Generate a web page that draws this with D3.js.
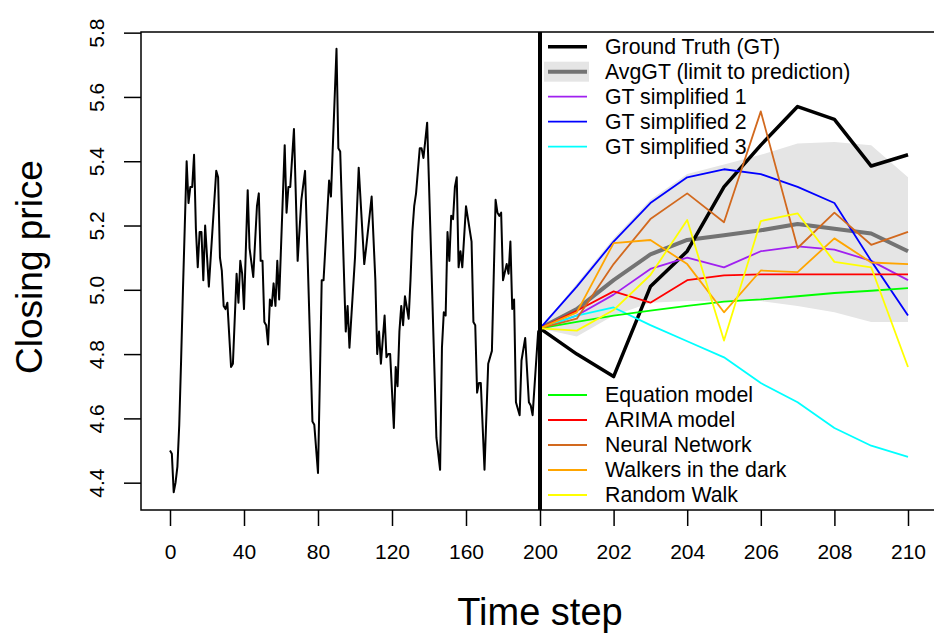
<!DOCTYPE html>
<html>
<head>
<meta charset="utf-8">
<script src="https://cdn.jsdelivr.net/npm/d3@7"></script>
<style>
  body { margin: 0; background: #fff; }
  svg { display: block; font-family: "Liberation Sans", Arial, Helvetica, sans-serif; }
</style>
</head>
<body>
<div class="container"></div>
<script>
// history: time step 0..200 (only the visible corners of the trace)
var histStep = [0,1,2,3,4,5,6,7,8,9,10,11,12,13,14,15,16,17,18,19,21,25,26,27,28,29,30,31,33,34,
  36,37,38,39,40,42,43,45,47,48,49,50,51,52,53,54,55,56,57,58,59,62,63,64,65,67,69,71,73,77,
  78,80,81,82,83,86,87,90,91,92,95,96,97,100,102,105,106,109,111,112,113,114,116,117,118,119,121,122,123,124,
  125,126,127,129,130,131,132,133,135,136,137,139,140,144,146,147,148,149,150,151,152,153,154,155,156,157,158,160,163,164,
  165,166,167,168,170,172,174,176,177,178,179,180,182,183,184,185,186,187,189,190,192,194,195,196,199,200];
var histPrice = [4.50,4.49,4.37,4.40,4.45,4.58,4.78,5.00,5.20,5.40,5.27,5.32,5.32,5.42,5.19,5.07,5.18,5.18,5.03,5.20,5.01,5.37,5.35,5.10,5.06,4.95,4.94,4.96,4.76,4.77,
  5.05,4.96,5.09,5.05,4.94,5.31,5.13,5.04,5.26,5.30,5.09,5.09,4.90,4.89,4.83,4.97,4.95,5.02,4.95,5.09,4.97,5.45,5.24,5.32,5.32,5.50,5.09,5.28,5.37,4.59,
  4.58,4.43,4.72,5.03,5.03,5.34,5.29,5.75,5.44,5.43,4.87,4.95,4.82,5.10,5.38,5.08,5.13,5.29,5.03,4.80,4.87,4.77,4.92,4.79,4.80,4.80,4.57,4.76,4.70,4.87,
  4.95,4.89,4.98,4.91,5.03,5.18,5.26,5.30,5.44,5.44,5.41,5.52,5.33,4.54,4.44,4.82,4.93,4.92,5.18,5.09,5.23,5.22,5.32,5.35,5.07,5.12,5.07,5.26,5.15,4.90,
  4.89,4.68,4.71,4.71,4.44,4.77,4.81,5.28,5.24,5.23,5.24,5.03,5.08,5.05,5.15,4.94,4.97,4.65,4.61,4.78,4.85,4.65,4.64,4.61,4.87,4.88];

// prediction part: time step 200..210
var predStep   = [200,201,202,203,204,205,206,207,208,209,210];
var groundTruth = [4.88,4.80,4.73,5.01,5.12,5.32,5.45,5.57,5.53,5.385,5.42];
var avgGT       = [4.88,4.94,5.03,5.11,5.155,5.17,5.185,5.205,5.19,5.175,5.12];
var limitHigh   = [4.88,5.02,5.16,5.28,5.36,5.39,5.42,5.455,5.46,5.45,5.35];
var limitLow    = [4.88,4.855,4.92,4.96,4.965,4.965,4.965,4.95,4.93,4.90,4.90];
var gtSimp1     = [4.88,4.92,4.985,5.065,5.10,5.07,5.12,5.135,5.125,5.09,5.03];
var gtSimp2     = [4.88,5.01,5.15,5.27,5.35,5.375,5.36,5.32,5.27,5.09,4.92];
var gtSimp3     = [4.88,4.92,4.945,4.89,4.84,4.79,4.71,4.65,4.57,4.515,4.48];
var equationModel = [4.88,4.90,4.92,4.935,4.95,4.963,4.97,4.98,4.99,4.997,5.005];
var arimaModel  = [4.88,4.935,4.995,4.96,5.03,5.045,5.048,5.048,5.048,5.048,5.048];
var neuralNet   = [4.88,4.91,5.08,5.22,5.30,5.21,5.555,5.13,5.24,5.14,5.18];
var walkers     = [4.88,4.93,5.145,5.155,5.08,4.93,5.06,5.055,5.16,5.085,5.08];
var randomWalk  = [4.88,4.873,4.937,5.046,5.217,4.842,5.214,5.238,5.087,5.07,4.76];

var leftTicks  = [0,40,80,120,160,200];
var rightTicks = [202,204,206,208,210];
var yTicks     = [4.4,4.6,4.8,5.0,5.2,5.4,5.6,5.8];

var topLegend = ["Ground Truth (GT)","AvgGT (limit to prediction)","GT simplified 1","GT simplified 2","GT simplified 3"];
var bottomLegend = ["Equation model","ARIMA model","Neural Network","Walkers in the dark","Random Walk"];

const WIDTH = 934;
const HEIGHT = 633;
const BOX_LEFT = 141, BOX_RIGHT = 938, BOX_TOP = 32, BOX_BOTTOM = 510;

var translate = function(x, y){
  return "translate("+x+","+y+")";
};

var svg = d3.select('.container').append('svg')
  .attr('width', WIDTH)
  .attr('height', HEIGHT);

var xLeft = d3.scaleLinear().domain([0, 200]).range([170, 540]);
var xRight = d3.scaleLinear().domain([200, 210]).range([540, 908]);
var yScale = d3.scaleLinear().domain([4.315, 5.802]).range([BOX_BOTTOM, BOX_TOP]);

// grey limit band
var band = d3.area()
  .x(function(d, i){ return xRight(predStep[i]); })
  .y0(function(d, i){ return yScale(limitLow[i]); })
  .y1(function(d){ return yScale(d); });
svg.append('path')
  .attr('d', band(limitHigh))
  .attr('fill', '#e5e5e5');

// history line
var histLine = d3.line()
  .x(function(d, i){ return xLeft(histStep[i]); })
  .y(function(d){ return yScale(d); });
svg.append('path')
  .attr('d', histLine(histPrice))
  .attr('fill', 'none')
  .attr('stroke', '#000')
  .attr('stroke-width', 2)
  .attr('stroke-linejoin', 'round');

var predLine = d3.line()
  .x(function(d, i){ return xRight(predStep[i]); })
  .y(function(d){ return yScale(d); });

var series = [
  {values: avgGT, color: '#737373', width: 4},
  {values: groundTruth, color: '#000', width: 3.5},
  {values: gtSimp1, color: '#a020f0', width: 1.8},
  {values: gtSimp2, color: '#0000ff', width: 1.8},
  {values: gtSimp3, color: '#00ffff', width: 1.8},
  {values: equationModel, color: '#00ff00', width: 1.8},
  {values: arimaModel, color: '#ff0000', width: 1.8},
  {values: neuralNet, color: '#d2691e', width: 1.8},
  {values: walkers, color: '#ffa500', width: 1.8},
  {values: randomWalk, color: '#ffff00', width: 1.8}
];

svg.append('g').selectAll('path').data(series)
  .enter().append('path')
  .attr('d', function(s){ return predLine(s.values); })
  .attr('fill', 'none')
  .attr('stroke', function(s){ return s.color; })
  .attr('stroke-width', function(s){ return s.width; })
  .attr('stroke-linejoin', 'round');

// divider at step 200
svg.append('line')
  .attr('x1', xLeft(200)).attr('x2', xLeft(200))
  .attr('y1', BOX_TOP).attr('y2', BOX_BOTTOM)
  .attr('stroke', '#000')
  .attr('stroke-width', 4);

// box
svg.append('rect')
  .attr('x', BOX_LEFT).attr('y', BOX_TOP)
  .attr('width', BOX_RIGHT - BOX_LEFT).attr('height', BOX_BOTTOM - BOX_TOP)
  .attr('fill', 'none')
  .attr('stroke', '#000')
  .attr('stroke-width', 1.5);

// axes
var styleAxis = function(g){
  g.select('.domain').remove();
  g.selectAll('line').attr('stroke', '#000').attr('stroke-width', 1.5);
  g.selectAll('text').attr('fill', '#000').style('font-size', '21px')
    .style('font-family', '"Liberation Sans", Arial, Helvetica, sans-serif');
};

svg.append('g')
  .attr('transform', translate(0, BOX_BOTTOM))
  .call(d3.axisBottom(xLeft).tickValues(leftTicks).tickSize(16).tickPadding(18).tickSizeOuter(0))
  .call(styleAxis);

svg.append('g')
  .attr('transform', translate(0, BOX_BOTTOM))
  .call(d3.axisBottom(xRight).tickValues(rightTicks).tickSize(16).tickPadding(18).tickSizeOuter(0))
  .call(styleAxis);

var yAxis = svg.append('g')
  .attr('transform', translate(BOX_LEFT, 0))
  .call(d3.axisLeft(yScale).tickValues(yTicks).tickSize(17).tickSizeOuter(0).tickFormat(d3.format('.1f')))
  .call(styleAxis);
yAxis.selectAll('text')
  .attr('x', null).attr('dy', '0.35em')
  .attr('text-anchor', 'middle')
  .attr('transform', 'translate(-44,0) rotate(-90)');

// axis titles
svg.append('text')
  .attr('x', 540).attr('y', 625)
  .attr('text-anchor', 'middle')
  .style('font-size', '38px')
  .text('Time step');

svg.append('text')
  .attr('transform', translate(42, 267) + ' rotate(-90)')
  .attr('text-anchor', 'middle')
  .style('font-size', '37px')
  .text('Closing price');

// legends
var topStyles = [series[1], series[0], series[2], series[3], series[4]];
var bottomStyles = series.slice(5);

var drawLegend = function(labels, styles, y0){
  var g = svg.append('g');
  labels.forEach(function(label, i){
    var y = y0 + i * 25;
    if (label.indexOf('AvgGT') === 0) {
      g.append('rect').attr('x', 544).attr('y', y - 10).attr('width', 45).attr('height', 20).attr('fill', '#e5e5e5');
    }
    g.append('line')
      .attr('x1', 548).attr('x2', 587)
      .attr('y1', y).attr('y2', y)
      .attr('stroke', styles[i].color)
      .attr('stroke-width', styles[i].width);
    g.append('text')
      .attr('x', 605).attr('y', y)
      .attr('dy', '0.35em')
      .style('font-size', '21.3px')
      .text(label);
  });
};

drawLegend(topLegend, topStyles, 46.7);
drawLegend(bottomLegend, bottomStyles, 395);
</script>
</body>
</html>
